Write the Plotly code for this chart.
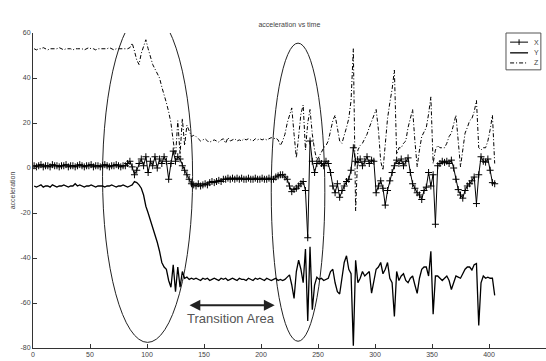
import plotly.graph_objects as go

time = list(range(1, 406, 2))

accel_x = [
    1, 0.5, 1, 1.5, 0.5, 1, 1, 0.5, 1.5, 1,
    1, 0.5, 1, 1, 1.5, 0.5, 1, 1, 0.5, 1,
    1.5, 1, 0.5, 1, 1, 1.5, 0.5, 1, 1, 0.5,
    1, 1.5, 1, 0.5, 1, 1, 1.5, 1, 0.5, 1,
    1, 2, 3, 0.5, -3, -1, 2, 4, 1, 5,
    -2, 3, 1, 5, 0, 4, 2, 5, 3, -5,
    2, 7.5, 3, 5, 4, 1, -1, -3, -5, -7,
    -7.5, -8, -7, -8, -7.5, -7, -7.5, -6.5, -6, -6.5,
    -6, -5.5, -6, -5, -5, -4.5, -5, -4.5, -5, -4.5,
    -5, -4.5, -5, -5, -4.5, -5, -5, -4.5, -5, -5,
    -4.5, -5, -5, -4.5, -5, -5, -4, -3.5, -3, -3,
    -4, -5, -8, -10.5, -9.5, -9, -8, -7, -6, -10,
    -31, 12, 3, -2, 2, 3, 2, 1, 3, 2,
    -2, -8, -11, -7, -13, -10, -8, -6, -5, -1,
    9, 3, 2.5, 4, 1, 3, 5, 2, 3.5, 3,
    -11, -8, -5.7, -9, -16.5, -10, -5.7, -2, 1, 3.5,
    2, 4, 1, 3, 4.5, -2, -7, -9, -11, -12,
    -14, -10, -8.5, -2, -8, -3, -25, 1, 2, 3,
    2.5, 3, 2, 3.5, 0, -5, -9.6, -12, -13.4, -10,
    -8, -7, -5.7, -4, -15.8, -3, 5, 3, 2.6, 4,
    -1, -6.5, -7,
]

accel_y = [
    -8, -8.5, -8, -7.5, -8.5, -8, -8, -8.5, -7.5, -8,
    -8.5, -8, -8, -7.5, -8, -8.5, -8, -8, -7, -8,
    -7.5, -8, -8.5, -8, -8, -7.5, -8, -8.5, -8, -8,
    -8, -8.5, -8, -8, -7.5, -8, -8.5, -8, -8, -7.5,
    -8, -8.5, -8, -7.5, -6, -6.5, -7.5, -9, -12, -17,
    -20, -23, -26, -30, -33, -37, -42, -44, -45, -50,
    -53, -43, -55, -44, -53, -46, -49, -48.5, -49.5, -49,
    -49.5, -49, -49.5, -50, -49, -49.5, -49, -50, -49.5, -49,
    -49.5, -50, -49, -49.5, -49, -50, -49.5, -49, -49.5, -50,
    -49, -49.5, -49.5, -50, -49, -49.5, -50, -49, -49.5, -49,
    -49.5, -50, -49, -49.5, -50, -49.5, -49, -50, -49.5, -50,
    -49.5, -48.5, -47.5, -52, -58, -46, -41, -45, -51, -36,
    -68, -35, -63, -52, -48.5, -49.5, -49, -50, -49.5, -49,
    -46, -45, -51, -55, -56, -48, -42, -39, -45, -47,
    -79, -41, -51, -49, -46, -48, -47, -46, -55.6, -50,
    -45, -44, -42, -47, -45, -42, -49, -51, -66, -46,
    -50, -48, -47, -50, -51, -49, -48, -52, -55.7, -49,
    -45, -44, -44, -48, -37, -65, -48, -48, -49, -50,
    -49, -48, -50, -54, -51, -48, -48.5, -49, -47, -45,
    -44, -44, -45.3, -43, -42.5, -70, -51, -48, -49, -48.5,
    -49, -49, -56.6,
]

accel_z = [
    53, 52.5, 53, 53, 53.5, 53, 52.5, 53, 53, 53,
    53, 53.5, 53, 52.5, 53, 53, 53, 52.5, 53, 53,
    53, 53, 52.5, 53, 53.5, 53, 53, 52.5, 53, 53,
    53, 53, 53, 53.5, 53, 52.5, 53, 53, 53, 53,
    53, 53, 53.5, 55.5, 52, 48, 46, 51, 54, 57,
    53, 49, 46, 44, 42, 40, 36, 33, 29, 25,
    20, 12, 5, 21, 6, 22, 10, 19, 16, 14,
    14.5, 14, 13, 12, 12.5, 13, 12, 11.5, 12, 12.5,
    12, 11.5, 12.5, 13, 11, 13.5, 12, 12.5, 13, 12,
    12.5, 12, 13, 12.5, 13, 12.5, 12, 13, 12.5, 13,
    12.5, 13, 12.5, 13, 13.5, 13, 13.3, 12.5, 10, 12,
    15, 20, 24, 26.7, 15, 4.5, 14, 24, 28, 8,
    20, 26, 15, 8, 3.5, 5, 7, 9, 10, 12,
    17, 21, 23.5, 18, 12, 11, 14, 18, 22, 30,
    53, -19, 8, 10, 11, 13, 15, 18, 21, 24,
    26, 17, 3, -1, 12, 22, 29, 35, 43.5, 6,
    9, 9, 11, 12, 18, 22, 26, 12, 0.5, 8,
    14, 16, 18, 24, 31.6, 2, 8, 10, 9, 9,
    9, 11, 14, 15.5, 19, 23.5, 12, 0.5, 8, 15.5,
    18, 21, 22, 25, 30, 9, 8, 9, 9, 12,
    17, 23.5, 2,
]

series_names = ["X", "Y", "Z"]
x_ticks = [0, 50, 100, 150, 200, 250, 300, 350, 400, 450]
y_ticks = [-80, -60, -40, -20, 0, 20, 40, 60]
y_tick_text = ["-80", "-60", "-40", "-20", "0", "20", "40", "60"]

# highlighted regions (ellipses) and transition arrow, in data units
ellipse_a = dict(t0=61, t1=140, v0=-77.5, v1=70)
ellipse_b = dict(t0=209, t1=256, v0=-77, v1=55.5)
arrow_span = dict(t0=136, t1=212, v=-61)
label_pos = dict(t=174, v=-67)

font_small = dict(family="Liberation Sans Narrow, Arial Narrow, Arial", size=7, color="#444")

fig = go.Figure()
fig.add_trace(go.Scatter(
    x=time, y=accel_x, name=series_names[0], mode="lines+markers",
    line=dict(color="black", width=1),
    marker=dict(symbol="cross-thin", size=5, line=dict(color="black", width=1)),
))
fig.add_trace(go.Scatter(
    x=time, y=accel_y, name=series_names[1], mode="lines",
    line=dict(color="black", width=1.3),
))
fig.add_trace(go.Scatter(
    x=time, y=accel_z, name=series_names[2], mode="lines",
    line=dict(color="black", width=1, dash="4px,2px,1px,2px"),
))

for e in (ellipse_a, ellipse_b):
    fig.add_shape(type="circle", xref="x", yref="y",
                  x0=e["t0"], x1=e["t1"], y0=e["v0"], y1=e["v1"],
                  line=dict(color="#222", width=1), layer="below")

fig.add_annotation(x=arrow_span["t1"], y=arrow_span["v"],
                   ax=arrow_span["t0"], ay=arrow_span["v"],
                   axref="x", ayref="y", xref="x", yref="y",
                   text="", showarrow=True, arrowside="end+start",
                   arrowhead=2, arrowsize=1.2, arrowwidth=1.8, arrowcolor="#222")
fig.add_annotation(x=label_pos["t"], y=label_pos["v"], xref="x", yref="y",
                   text="Transition Area", showarrow=False,
                   font=dict(family="Arial, Liberation Sans", size=13, color="#555"))

# compact MATLAB-style legend box (paper coordinates)
leg_box = dict(x0=0.922, x1=0.990, y0=0.883, y1=1.0)
leg_line_x = (0.930, 0.965)
leg_rows = [0.971, 0.937, 0.905]
leg_dash = ["solid", "solid", "4px,2px,1px,2px"]
leg_width = [1, 1.3, 1]
fig.add_shape(type="rect", xref="paper", yref="paper", **leg_box,
              line=dict(color="#555", width=1), fillcolor="white", layer="above")
for name, yy, dsh, w in zip(series_names, leg_rows, leg_dash, leg_width):
    fig.add_shape(type="line", xref="paper", yref="paper",
                  x0=leg_line_x[0], x1=leg_line_x[1], y0=yy, y1=yy,
                  line=dict(color="black", width=w, dash=dsh), layer="above")
    fig.add_annotation(x=leg_line_x[1] + 0.007, y=yy, xref="paper", yref="paper",
                       text=name, showarrow=False, xanchor="left", yanchor="middle",
                       font=font_small)
mid = (leg_line_x[0] + leg_line_x[1]) / 2
fig.add_shape(type="line", xref="paper", yref="paper",
              x0=mid, x1=mid, y0=leg_rows[0] - 0.009, y1=leg_rows[0] + 0.009,
              line=dict(color="black", width=1), layer="above")

fig.update_layout(
    width=546, height=361,
    margin=dict(l=33, r=0, t=33, b=13),
    paper_bgcolor="white", plot_bgcolor="white",
    title=dict(text="acceleration vs time", x=0.53, xanchor="center",
               y=0.932, yanchor="middle", font=font_small),
    showlegend=False,
    xaxis=dict(range=[0, 450], tickvals=x_ticks, ticks="inside", ticklen=4,
               tickcolor="#333", showline=True, linecolor="#333", linewidth=1,
               showgrid=False, zeroline=False, tickfont=font_small, automargin=False),
    yaxis=dict(range=[-80, 60], tickvals=y_ticks, ticktext=y_tick_text,
               ticks="inside", ticklen=4, tickcolor="#333", showline=True,
               linecolor="#333", linewidth=1, showgrid=False, zeroline=False,
               tickfont=font_small, automargin=False,
               title=dict(text="acceleration", standoff=4, font=font_small)),
)

fig.write_html("out.html")
